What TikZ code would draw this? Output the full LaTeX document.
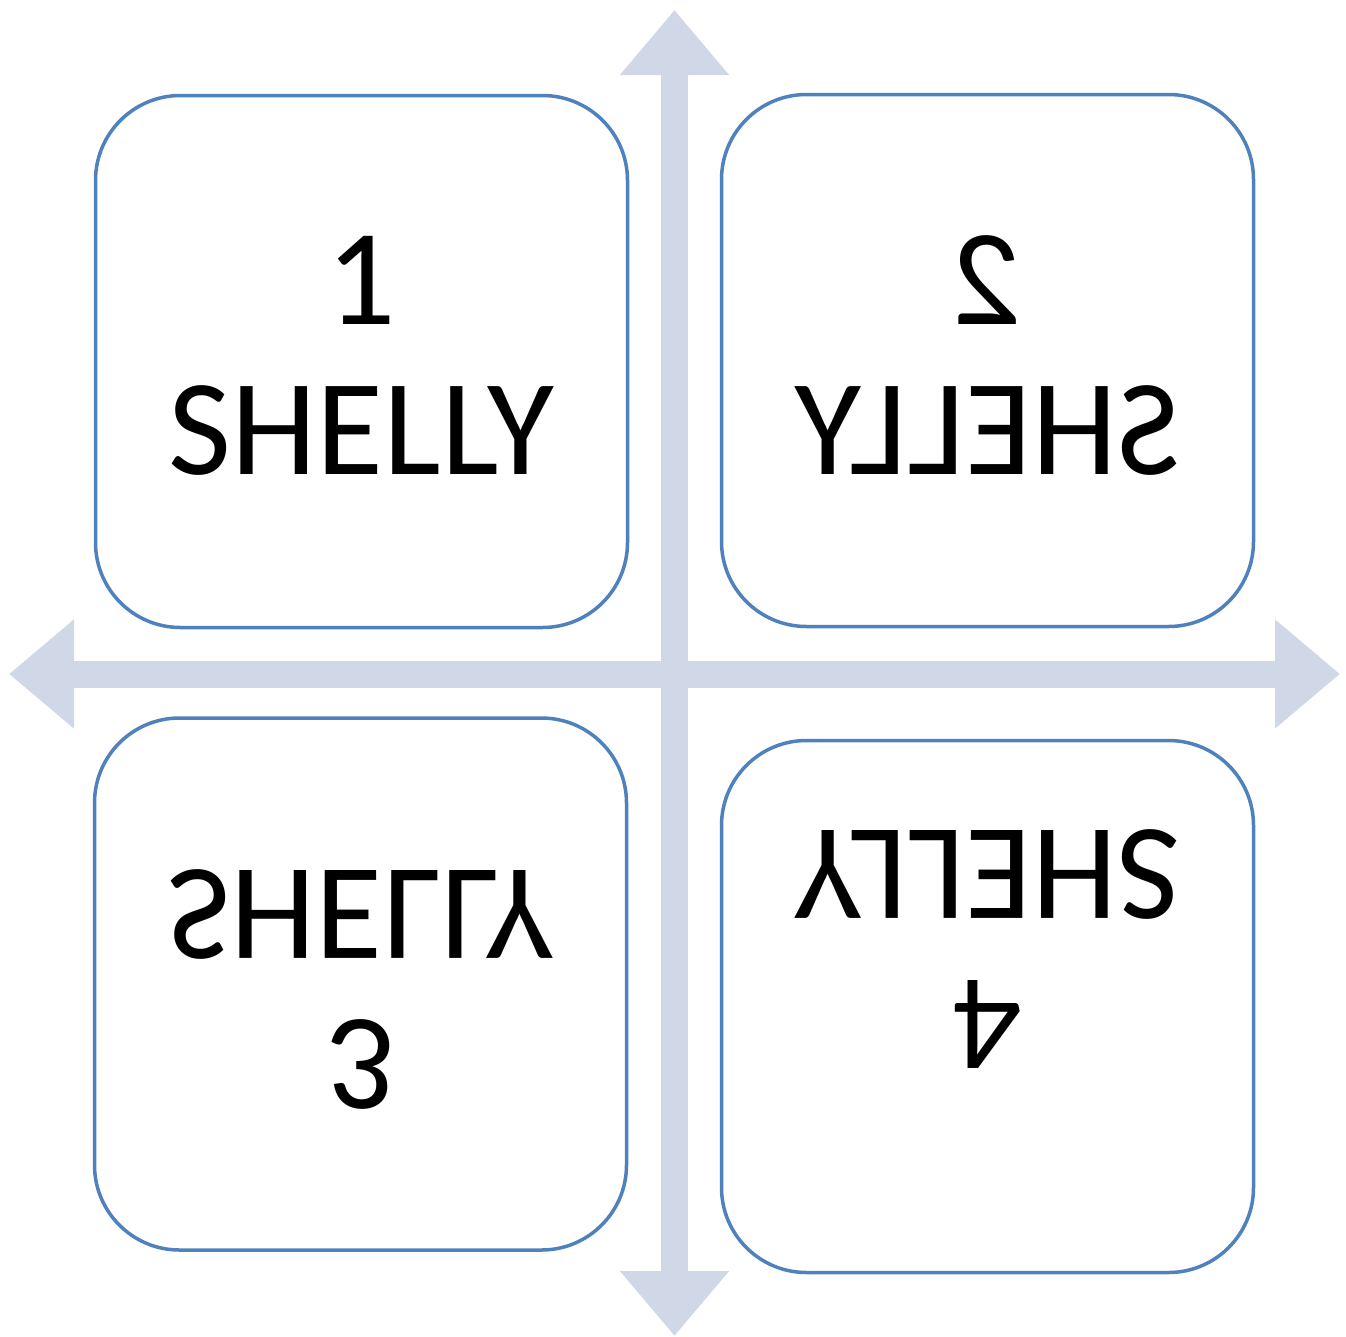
\documentclass[tikz,border=0pt]{standalone}
\usepackage{fontspec}
\setmainfont{Carlito}
\usetikzlibrary{arrows.meta}
\definecolor{boxline}{RGB}{79,129,189}
\definecolor{axisfill}{RGB}{208,216,232}
\begin{document}
\begin{tikzpicture}[x=1pt, y=1pt,
  quad/.style={draw=boxline, line width=3.5pt, rounded corners=85pt, minimum width=532pt, minimum height=532pt, inner sep=0pt},
  label/.style={align=center, inner sep=0pt, font=\fontsize{137}{150}\selectfont, transform shape},
  axis/.style={axisfill, line width=27pt, {Triangle[width=105pt, length=65pt]}-{Triangle[width=105pt, length=65pt]}}]
\useasboundingbox (0,0) rectangle (1346,-1336);
% axes
\coordinate (top) at (674.5,-10);
\coordinate (bottom) at (674.5,-1336);
\coordinate (left) at (9,-674);
\coordinate (right) at (1340,-674);
\draw [axis] (bottom) -- (top);
\draw [axis] (left) -- (right);
% quadrants
\node [quad] (q1) at (361.5,-361.5) {};
\node [quad] (q2) at (987.5,-360.5) {};
\node [quad] (q3) at (360.5,-984) {};
\node [quad] (q4) at (987.5,-1006.5) {};
% texts
\node [label] (t1) at (361.5,-356) {1\\SHELLY};
\node [label, xscale=-1] (t2) at (987.5,-356) {2\\SHELLY};
\node [label, yscale=-1] (t3) at (360.5,-989) {3\\SHELLY};
\node [label, rotate=180] (t4) at (987.5,-949) {4\\SHELLY};
\end{tikzpicture}
\end{document}
